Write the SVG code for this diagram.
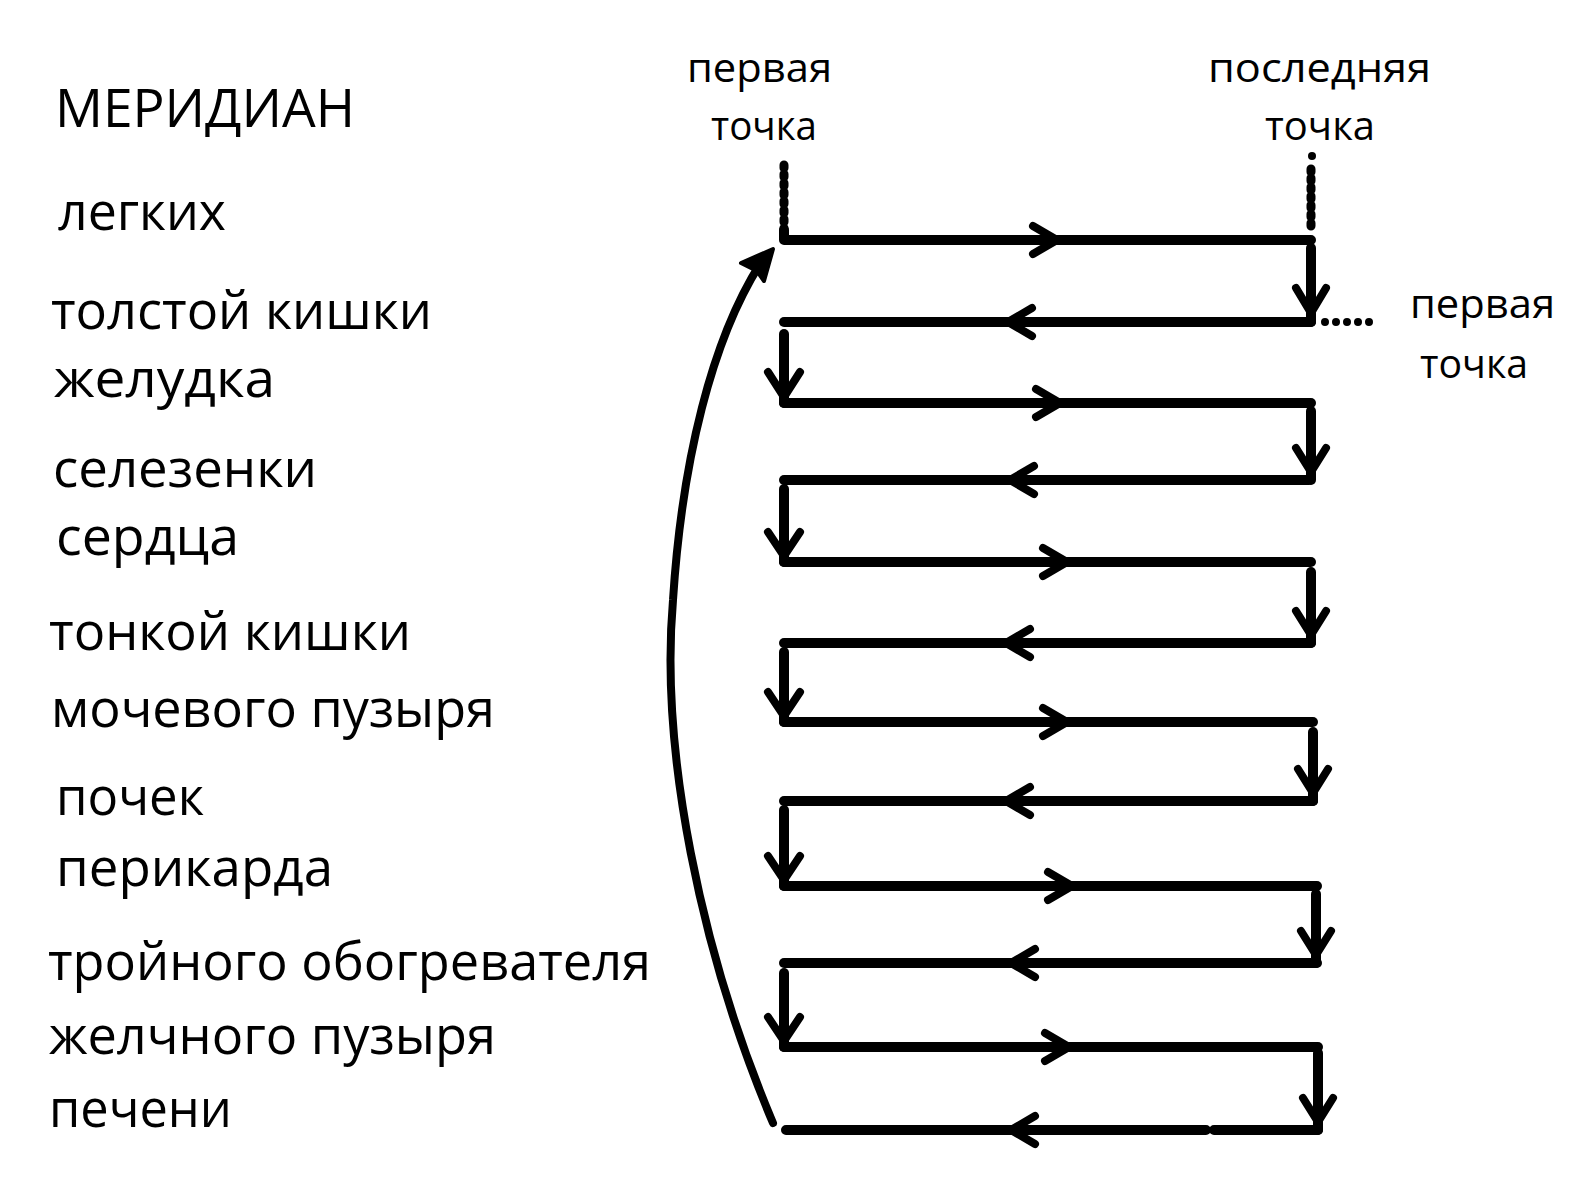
<svg xmlns="http://www.w3.org/2000/svg" width="1594" height="1187" viewBox="0 0 1594 1187">
<style>
.t{font-family:"Open Sans","Noto Sans","DejaVu Sans",sans-serif;font-size:53px;fill:#000}
.l{font-family:"Open Sans","Noto Sans","DejaVu Sans",sans-serif;font-size:41px;font-weight:500;fill:#000}
.ln{stroke:#000;stroke-width:10;stroke-linecap:round;stroke-linejoin:round;fill:none}
.ar{stroke:#000;stroke-width:8;stroke-linecap:round;stroke-linejoin:round;fill:none}
.dv{stroke:#000;stroke-width:9;stroke-linecap:round;stroke-dasharray:3 6;fill:none}
.dh{stroke:#000;stroke-width:8;stroke-linecap:round;stroke-dasharray:0 11;fill:none}
</style>
<rect width="1594" height="1187" fill="#fff"/>
<g id="labels-left">
<g id="t-meridian"><text class="t" x="55" y="127" textLength="300" lengthAdjust="spacingAndGlyphs">МЕРИДИАН</text></g>
<g id="t-legkih"><text class="t" x="58" y="230" textLength="168" lengthAdjust="spacingAndGlyphs">легких</text></g>
<g id="t-tolstoy"><text class="t" x="51" y="329" textLength="381" lengthAdjust="spacingAndGlyphs">толстой кишки</text></g>
<g id="t-zheludka"><text class="t" x="54" y="397" textLength="221" lengthAdjust="spacingAndGlyphs">желудка</text></g>
<g id="t-selezenki"><text class="t" x="53" y="487" textLength="264" lengthAdjust="spacingAndGlyphs">селезенки</text></g>
<g id="t-serdca"><text class="t" x="56" y="555" textLength="183" lengthAdjust="spacingAndGlyphs">сердца</text></g>
<g id="t-tonkoy"><text class="t" x="49" y="650" textLength="362" lengthAdjust="spacingAndGlyphs">тонкой кишки</text></g>
<g id="t-mochevogo"><text class="t" x="51" y="727" textLength="444" lengthAdjust="spacingAndGlyphs">мочевого пузыря</text></g>
<g id="t-pochek"><text class="t" x="56" y="815" textLength="148" lengthAdjust="spacingAndGlyphs">почек</text></g>
<g id="t-perikarda"><text class="t" x="56" y="886" textLength="277" lengthAdjust="spacingAndGlyphs">перикарда</text></g>
<g id="t-troynogo"><text class="t" x="48" y="980" textLength="603" lengthAdjust="spacingAndGlyphs">тройного обогревателя</text></g>
<g id="t-zhelchnogo"><text class="t" x="49" y="1054" textLength="447" lengthAdjust="spacingAndGlyphs">желчного пузыря</text></g>
<g id="t-pecheni"><text class="t" x="49" y="1127" textLength="183" lengthAdjust="spacingAndGlyphs">печени</text></g>
</g>
<g id="labels-points">
<g id="p-first-top"><text class="l" x="687" y="82" textLength="145" lengthAdjust="spacingAndGlyphs">первая</text><text class="l" x="711" y="140" textLength="106" lengthAdjust="spacingAndGlyphs">точка</text></g>
<g id="p-last-top"><text class="l" x="1208" y="82" textLength="223" lengthAdjust="spacingAndGlyphs">последняя</text><text class="l" x="1265" y="140" textLength="110" lengthAdjust="spacingAndGlyphs">точка</text></g>
<g id="p-first-right"><text class="l" x="1410" y="318" textLength="145" lengthAdjust="spacingAndGlyphs">первая</text><text class="l" x="1420" y="378" textLength="108" lengthAdjust="spacingAndGlyphs">точка</text></g>
</g>
<g id="connectors">
<path class="dv" d="M784 165 V230"/>
<path class="dv" d="M1311 169 V228"/>
<circle cx="1312" cy="156" r="4" fill="#000"/>
<path class="dh" d="M1325 322 H1378"/>
<path class="ln" d="M784 230 V240 H1311"/>
<path class="ln" d="M1311 322 H784"/>
<path class="ln" d="M784 403 H1311"/>
<path class="ln" d="M1309 480 H784"/>
<path class="ln" d="M784 562 H1311"/>
<path class="ln" d="M1311 643 H784"/>
<path class="ln" d="M784 722 H1313"/>
<path class="ln" d="M1313 801 H784"/>
<path class="ln" d="M784 886 H1317"/>
<path class="ln" d="M1317 963 H784"/>
<path class="ln" d="M784 1047 H1318"/>
<path class="ln" d="M1318 1130 H1214 M1206 1130 H786"/>
<path class="ln" d="M1311 248 V322"/>
<path class="ln" d="M1311 411 V480"/>
<path class="ln" d="M1311 572 V643"/>
<path class="ln" d="M1313 732 V801"/>
<path class="ln" d="M1316 894 V963"/>
<path class="ln" d="M1318 1053 V1130"/>
<path class="ln" d="M784 334 V403"/>
<path class="ln" d="M784 489 V562"/>
<path class="ln" d="M784 652 V722"/>
<path class="ln" d="M784 810 V886"/>
<path class="ln" d="M784 973 V1047"/>
<path class="ar" d="M1033 226 L1057 240 L1033 254"/>
<path class="ar" d="M1032 308 L1008 322 L1032 336"/>
<path class="ar" d="M1036 389 L1060 403 L1036 417"/>
<path class="ar" d="M1034 466 L1010 480 L1034 494"/>
<path class="ar" d="M1043 548 L1067 562 L1043 576"/>
<path class="ar" d="M1030 629 L1006 643 L1030 657"/>
<path class="ar" d="M1043 708 L1067 722 L1043 736"/>
<path class="ar" d="M1030 787 L1006 801 L1030 815"/>
<path class="ar" d="M1048 872 L1072 886 L1048 900"/>
<path class="ar" d="M1035 949 L1011 963 L1035 977"/>
<path class="ar" d="M1045 1033 L1069 1047 L1045 1061"/>
<path class="ar" d="M1035 1116 L1011 1130 L1035 1144"/>
<path class="ar" d="M1296 288 L1311 313 L1326 288"/>
<path class="ar" d="M1296 448 L1311 472 L1326 448"/>
<path class="ar" d="M1296 611 L1311 635 L1326 611"/>
<path class="ar" d="M1298 769 L1313 793 L1328 769"/>
<path class="ar" d="M1301 931 L1316 955 L1331 931"/>
<path class="ar" d="M1303 1098 L1318 1122 L1333 1098"/>
<path class="ar" d="M768 372 L784 397 L800 372"/>
<path class="ar" d="M768 532 L784 556 L800 532"/>
<path class="ar" d="M768 692 L784 716 L800 692"/>
<path class="ar" d="M768 856 L784 880 L800 856"/>
<path class="ar" d="M768 1017 L784 1041 L800 1017"/>
<path class="ln" style="stroke-width:8" d="M773 1123 C700 950 660 750 673 600 C682 460 712 340 760 264"/>
<polygon points="773,249 764,281 757,271 741,263" fill="#000" stroke="#000" stroke-width="4" stroke-linejoin="round"/>
</g>
</svg>
